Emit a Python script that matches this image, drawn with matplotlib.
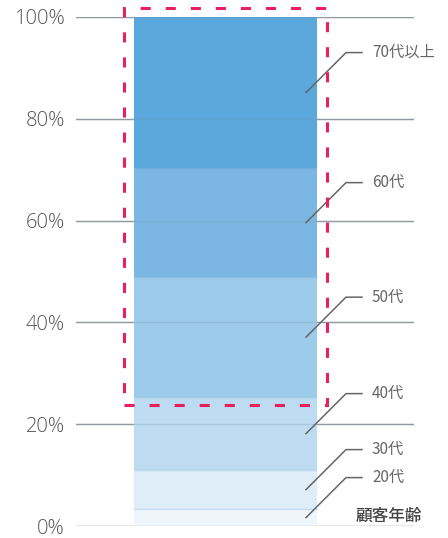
import matplotlib.pyplot as plt
from matplotlib.patches import Rectangle

# 顧客年齢の構成比 (%)
age_groups = ['20代', '30代', '40代', '50代', '60代', '70代以上']
shares = [3.3, 7.7, 14.3, 23.6, 21.4, 29.7]
seg_colors = ['#eef5fb', '#deedf8', '#bddcf1', '#9dcbeb', '#7bb7e2', '#5ba8dc']
y_ticks = [0, 20, 40, 60, 80, 100]
y_tick_labels = ['0%', '20%', '40%', '60%', '80%', '100%']
axis_title = '顧客年齢'
highlight_from = 23.8  # dashed box around 50代以上

plt.rcParams['font.family'] = ['Noto Sans CJK JP', 'DejaVu Sans']

fig = plt.figure(figsize=(4.48, 5.38), dpi=100)
ax = fig.add_axes([76 / 448, 12 / 538, 338 / 448, 509 / 538])

bar_w = 0.6
x_span = bar_w / (183 / 338)          # data units across the axes
x_left = -bar_w / 2 - (58 / 338) * x_span
ax.set_xlim(x_left, x_left + x_span)
ax.set_ylim(0, 100)

# px -> data conversion
px_x = x_span / 338
px_y = 100 / 509

bottom = 0
mids = []
for name, val, col in zip(age_groups, shares, seg_colors):
    ax.bar(0, val, bottom=bottom, width=bar_w, color=col, linewidth=0, zorder=2)
    mids.append(bottom + val / 2)
    bottom += val
    # thin boundary on top of each segment
    ax.hlines(bottom, -bar_w / 2, bar_w / 2, color='#5a9bd0', alpha=0.25,
              linewidth=1, zorder=2.5)

# grid lines: full under, faint over the bar
for t in y_ticks:
    ax.axhline(t, color='#9a9a9a', linewidth=1, zorder=1)
    ax.axhline(t, color='#7a9ab5', linewidth=1, alpha=0.3, zorder=3)

# leader lines + labels
x0 = bar_w / 2 - 11 * px_x
for name, m in zip(age_groups, mids):
    xs = [x0, x0 + 40 * px_x, x0 + 56 * px_x]
    ys = [m, m + 40 * px_y, m + 40 * px_y]
    ax.plot(xs, ys, color='#666666', linewidth=1.1, zorder=4, clip_on=False)
    ax.text(x0 + 66 * px_x, m + 40 * px_y, name, fontsize=11, color='#666666',
            ha='left', va='center', clip_on=False)

# dashed highlight box
pad = 10 * px_x
box = Rectangle((-bar_w / 2 - pad, highlight_from), bar_w + 2 * pad,
                100 + 8.5 * px_y - highlight_from, fill=False,
                edgecolor='#e8205e', linewidth=2.2,
                linestyle=(0, (3.3, 4.9)), zorder=5, clip_on=False)
ax.add_patch(box)

ax.text(1.025, 2.0, axis_title, transform=ax.get_yaxis_transform(),
        fontsize=12, fontweight='medium', color='#444444', ha='right', va='center')

ax.set_yticks(y_ticks)
ax.set_yticklabels(y_tick_labels, family=['Open Sans', 'DejaVu Sans'], fontweight='light')
ax.tick_params(axis='y', length=0, pad=8, labelsize=14.5, labelcolor='#555555')
ax.set_xticks([])
for s in ax.spines.values():
    s.set_visible(False)

fig.savefig('out.png', dpi=100)
